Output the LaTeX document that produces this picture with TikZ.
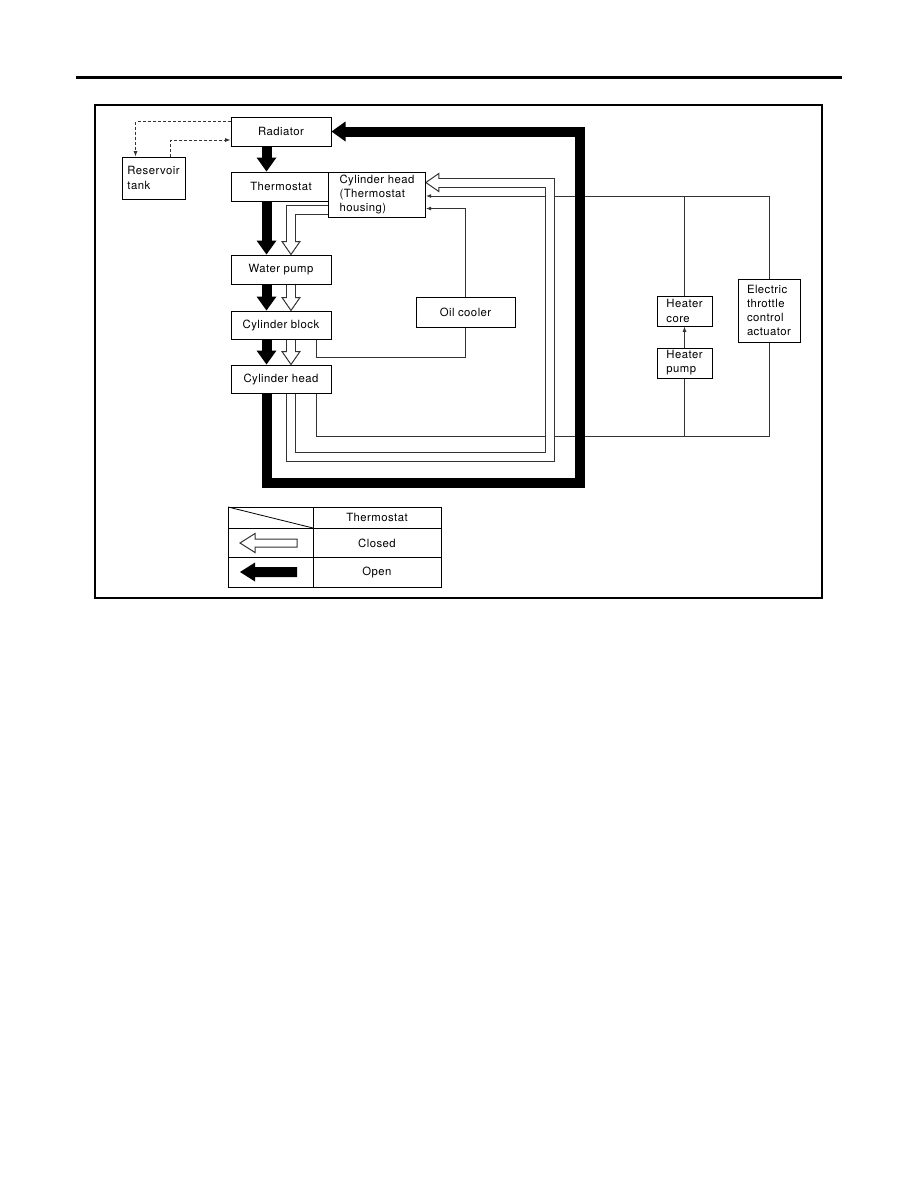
\documentclass[tikz,border=0pt]{standalone}
\usepackage{fontspec}
\setmainfont{TeX Gyre Heros}[LetterSpace=4]
\usetikzlibrary{arrows.meta,calc,backgrounds}

% thick flow arrows: #1 path, #2 tip, #3 direction of the head
\newcommand{\openflow}[3]{\draw[open flow] #1; \pic[rotate=#3] at #2 {openhead};}
\newcommand{\closedflow}[3]{\draw[closed out] #1; \pic[rotate=#3] at #2 {closedhead}; \draw[closed in] #1;}

\begin{document}
\begin{tikzpicture}[x=0.75pt,y=-0.75pt,
    font=\fontsize{8.5}{10.6}\selectfont,
    box/.style={draw, fill=white, line width=0.75pt, minimum width=75pt, minimum height=21.75pt, inner sep=1pt},
    flow/.style={line width=0.7pt, black!80},
    open flow/.style={line width=7.5pt, shorten >=10pt},
    closed out/.style={line width=7.5pt, black!80, shorten >=9.75pt},
    closed in/.style={line width=6pt, white, shorten >=8.5pt},
    openhead/.pic={\fill (0,0) -- (-14,-10) -- (-14,10) -- cycle;},
    closedhead/.pic={\filldraw[fill=white, draw=black!80, line width=0.75pt] (0,0) -- (-13,-9) -- (-13,9) -- cycle;},
    >={Latex[length=4pt,width=3pt]}]
    \useasboundingbox (0,0) rectangle (918,1188);
    \draw[line width=2.25pt] (76,78) -- (842,78);
    \draw[line width=1pt] (95,105) rectangle (822,598);

    % parts
    \node[box] (radiator) at (281,131.5) {Radiator};
    \node[box, minimum width=47.25pt, minimum height=31.5pt, align=left] (reservoir) at (153.5,178) {Reservoir\\tank};
    \node[box] (thermostat) at (281,186.5) {Thermostat};
    \node[box, minimum width=72.5pt, minimum height=33.75pt, align=left] (housing) at (377,194.5) {Cylinder head\\(Thermostat\\housing)};
    \node[box] (waterpump) at (281,269.5) {Water pump};
    \node[box, minimum height=21pt] (cylblock) at (281,325) {Cylinder block};
    \node[box, minimum height=21pt] (cylhead) at (281,379) {Cylinder head};
    \node[box, minimum width=74.25pt, minimum height=22.5pt] (oilcooler) at (465.5,312) {Oil cooler};
    \node[box, minimum width=41.25pt, minimum height=22.5pt, align=left] (heatercore) at (684.5,311) {Heater\\core};
    \node[box, minimum width=41.25pt, minimum height=22.5pt, align=left] (heaterpump) at (684.5,363) {Heater\\pump};
    \node[box, minimum width=46.5pt, minimum height=47.25pt, align=left] (throttle) at (769,310.5) {Electric\\throttle\\control\\actuator};

    \coordinate (bk) at (266.5,0);
    \coordinate (wt) at (291,0);
    \coordinate (tl) at (316,0);
    \coordinate (bot) at (0,436.5);
    \coordinate (ret) at (0,196);

    \begin{scope}[on background layer]
    % reservoir
    \draw[flow, dash pattern=on 2.25pt off 1.5pt, ->] ($(radiator.west)+(0,-10)$) -| ($(reservoir.north west)+(14,0)$);
    \draw[flow, dash pattern=on 2.25pt off 1.5pt, ->] ($(reservoir.north west)+(49,0)$) |- ($(radiator.west)+(0,8.5)$);

    % thin lines
    \draw[flow] (cylblock.south -| tl) -- ++(0,18) -| (oilcooler.south);
    \draw[flow, ->] (oilcooler.north) |- ($(housing.east)+(0,14)$);
    \draw[flow] (cylhead.south -| tl) -- (tl |- bot) -| (throttle.south);
    \draw[flow] (heaterpump.south) -- (heaterpump.south |- bot);
    \draw[flow, ->] (heaterpump.north) -- (heatercore.south);
    \draw[flow] (heatercore.north) -- (heatercore.north |- ret);
    \draw[flow, ->] (throttle.north) |- ($(housing.east)+(0,1.5)$);

    % thermostat closed
    \closedflow{($(housing.west)+(0,15)$) -| (waterpump.north -| wt)}{(waterpump.north -| wt)}{-90}
    \closedflow{(waterpump.south -| wt) -- (cylblock.north -| wt)}{(cylblock.north -| wt)}{-90}
    \closedflow{(cylblock.south -| wt) -- (cylhead.north -| wt)}{(cylhead.north -| wt)}{-90}
    \closedflow{(cylhead.south -| wt) |- (550,456.5) |- ($(housing.east)+(0,-12)$)}{($(housing.east)+(0,-12)$)}{180}

    % thermostat open
    \openflow{(radiator.south -| bk) -- (thermostat.north -| bk)}{(thermostat.north -| bk)}{-90}
    \openflow{(thermostat.south -| bk) -- (waterpump.north -| bk)}{(waterpump.north -| bk)}{-90}
    \openflow{(waterpump.south -| bk) -- (cylblock.north -| bk)}{(cylblock.north -| bk)}{-90}
    \openflow{(cylblock.south -| bk) -- (cylhead.north -| bk)}{(cylhead.north -| bk)}{-90}
    \openflow{(cylhead.south -| bk) |- (580,483) |- (radiator.east)}{(radiator.east)}{180}
    \end{scope}

    % legend
    \draw[line width=0.75pt] (228,507) rectangle (441,587);
    \draw[line width=0.75pt] (228,528) -- (441,528);
    \draw[line width=0.75pt] (228,557) -- (441,557);
    \draw[line width=0.75pt] (313,507) -- (313,587);
    \draw[line width=0.6pt] (228,507) -- (313,528);
    \node (lgtitle) at (377,517.5) {Thermostat};
    \node (lgclosed) at (377,543) {Closed};
    \node (lgopen) at (377,572) {Open};
    \filldraw[fill=white, draw=black!80, line width=0.75pt] (240,543) -- ++(15,-9.5) -- ++(0,5.5) -- ++(42,0) -- ++(0,8) -- ++(-42,0) -- ++(0,5.5) -- cycle;
    \fill (240,572) -- ++(15,-9.5) -- ++(0,4.5) -- ++(42,0) -- ++(0,10) -- ++(-42,0) -- ++(0,4.5) -- cycle;
\end{tikzpicture}
\end{document}
